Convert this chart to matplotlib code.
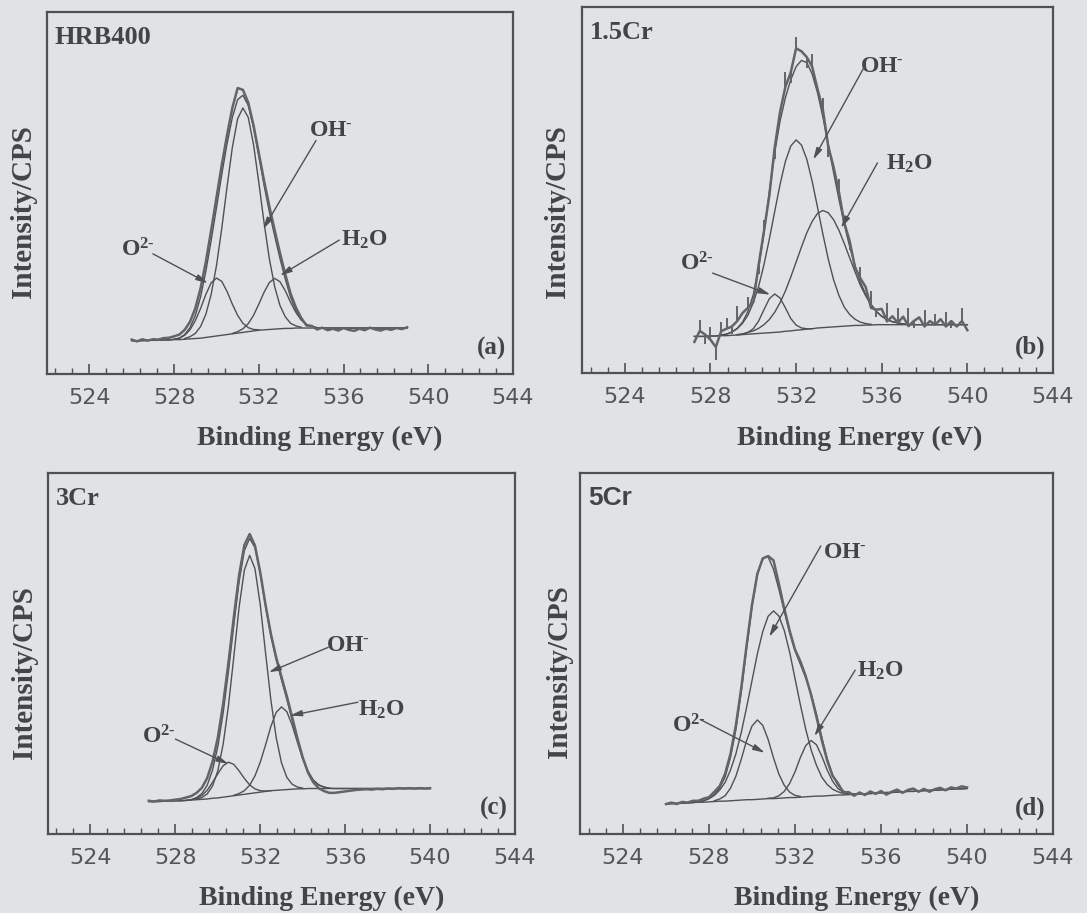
import numpy as np
import matplotlib
matplotlib.use('Agg')
from matplotlib import pyplot as plt
from matplotlib.ticker import MultipleLocator

plt.rcParams['mathtext.fontset'] = 'custom'
plt.rcParams['mathtext.rm'] = 'Liberation Serif:bold'
plt.rcParams['mathtext.it'] = 'Liberation Serif:bold'
plt.rcParams['mathtext.bf'] = 'Liberation Serif:bold'

step = 0.25  # eV between read points

# ---- (a) HRB400 -------------------------------------------------------
grid_a = np.arange(526.0, 539.0 + 1e-6, step)
bg_a = [9.2, 9.2, 9.2, 9.3,
        9.3, 9.3, 9.4, 9.4,
        9.5, 9.5, 9.6, 9.7,
        9.8, 9.9, 10.1, 10.3,
        10.5, 10.7, 10.9, 11.1,
        11.3, 11.5, 11.7, 11.9,
        12.1, 12.2, 12.3, 12.4,
        12.5, 12.6, 12.6, 12.7,
        12.7, 12.7, 12.7, 12.7,
        12.7, 12.7, 12.7, 12.7,
        12.7, 12.7, 12.7, 12.7,
        12.7, 12.7, 12.7, 12.7,
        12.7, 12.7, 12.7, 12.7,
        12.7]
o2_a = (528.0, [0.1, 0.4, 1.1, 2.5, 4.9, 8.2, 11.9, 14.9, 16.0, 14.9, 11.9, 8.2, 4.9, 2.5, 1.1, 0.4, 0.1])
oh_a = (528.5, [0.2, 0.6, 1.4, 3.2, 6.4, 11.7, 19.4, 29.5, 40.8, 51.5, 59.2, 62.0, 59.2, 51.5, 40.8,
                29.5, 19.4, 11.7, 6.4, 3.2, 1.4, 0.6, 0.2])
h2o_a = (530.75, [0.1, 0.4, 1.0, 2.2, 4.3, 7.2, 10.4, 13.0, 14.0, 13.0, 10.4, 7.2, 4.3, 2.2, 1.0, 0.4, 0.1])
resid_a = [0.3, -0.2, 0.4, -0.1,
           0.3, 0.2, 0.5, 0.6,
           0.8, 1.0, 1.3, 1.6,
           2.0, 2.4, 2.6, 2.8,
           2.8, 2.6, 2.4, 2.6,
           3.2, 1.5, 0.8, 0.6,
           0.8, 1.2, 1.5, 1.6,
           1.5, 1.3, 1.0, 0.8,
           0.4, -0.3, 0.2, -0.5,
           0.1, -0.6, -0.2, -0.7,
           0.0, -0.5, -0.8, -0.2,
           -0.6, 0.1, -0.4, -0.7,
           -0.2, -0.5, 0.0, -0.3,
           0.2]
spikes_a = []

# ---- (b) 1.5Cr --------------------------------------------------------
grid_b = np.arange(527.25, 540.0 + 1e-6, step)
bg_b = [10.0, 10.0, 10.0,
        10.1, 10.1, 10.2, 10.2,
        10.3, 10.4, 10.5, 10.6,
        10.7, 10.8, 10.9, 11.0,
        11.1, 11.2, 11.4, 11.5,
        11.7, 11.8, 12.0, 12.1,
        12.3, 12.4, 12.5, 12.6,
        12.7, 12.8, 12.9, 13.0,
        13.0, 13.1, 13.1, 13.2,
        13.2, 13.2, 13.2, 13.2,
        13.2, 13.2, 13.2, 13.2,
        13.2, 13.2, 13.2, 13.2,
        13.2, 13.2, 13.2, 13.2,
        13.2]
o2_b = (529.25, [0.0, 0.1, 0.5, 1.4, 3.4, 6.4, 9.3, 10.5, 9.3, 6.4, 3.4, 1.4, 0.5, 0.1, 0.0])
oh_b = (528.5, [0.2, 0.4, 0.9, 1.7, 3.1, 5.2, 8.5, 12.9, 18.7, 25.6, 33.0, 40.3, 46.4, 50.5, 52.0,
                50.5, 46.4, 40.3, 33.0, 25.6, 18.7, 12.9, 8.5, 5.2, 3.1, 1.7, 0.9, 0.4, 0.2])
h2o_b = (529.25, [0.1, 0.2, 0.5, 0.8, 1.4, 2.3, 3.6, 5.5, 8.0, 11.0, 14.7, 18.6, 22.6, 26.3, 29.3, 31.3,
                  32.0, 31.3, 29.3, 26.3, 22.6, 18.6, 14.7, 11.0, 8.0, 5.5, 3.6, 2.3, 1.4, 0.8, 0.5, 0.2, 0.1])
resid_b = [-1.5, 1.5, 0.5,
           -1.0, -3.0, 1.0, 1.5,
           1.5, 2.0, 2.5, 1.0,
           -2.0, 1.0, 0.5, -1.0,
           1.5, 2.5, 3.0, 2.0,
           5.0, 2.5, 1.5, 2.0,
           1.0, 2.0, -0.5, 1.5,
           2.0, 0.5, 1.5, -0.5,
           1.0, 2.0, -1.0, 0.5,
           2.0, -0.5, 1.5, 0.0,
           2.0, -0.5, 1.0, 2.0,
           -0.5, 1.0, 0.0, 1.5,
           -0.5, 1.0, -0.5, 1.0,
           -1.5]
# noise sticks on the 1.5Cr spectrum: (eV, length)
spikes_b = [(527.5, 3.0), (527.75, -2.5), (528.0, 3.5), (528.25, -3.5), (528.5, 2.5), (528.75, 3.0),
            (529.0, -2.0), (529.25, 4.0), (529.75, 3.0), (530.25, -2.5), (530.5, 3.0), (531.0, -3.0),
            (531.5, 4.0), (531.75, -3.0), (532.0, 3.0), (532.5, -3.0), (532.75, 3.5), (533.25, 3.0),
            (533.5, -3.0), (534.0, 3.5), (534.5, -2.5), (535.0, 3.0), (535.5, 4.5), (535.75, -2.0),
            (536.25, 5.0), (536.75, 4.0), (537.25, 5.0), (537.5, -2.0), (538.0, 4.5), (538.5, 3.0),
            (539.0, 4.0), (539.25, -2.0), (539.75, 3.5)]

# ---- (c) 3Cr ----------------------------------------------------------
grid_c = np.arange(526.75, 540.0 + 1e-6, step)
bg_c = [9.0,
        9.0, 9.0, 9.1, 9.1,
        9.2, 9.2, 9.3, 9.4,
        9.5, 9.6, 9.7, 9.9,
        10.0, 10.2, 10.4, 10.6,
        10.8, 11.0, 11.2, 11.4,
        11.6, 11.8, 12.0, 12.1,
        12.2, 12.3, 12.4, 12.5,
        12.5, 12.6, 12.6, 12.6,
        12.6, 12.6, 12.6, 12.6,
        12.6, 12.6, 12.6, 12.6,
        12.6, 12.6, 12.6, 12.6,
        12.6, 12.6, 12.6, 12.6,
        12.6, 12.6, 12.6, 12.6,
        12.6]
o2_c = (528.5, [0.0, 0.1, 0.4, 1.1, 2.4, 4.4, 6.7, 8.7, 9.5, 8.7, 6.7, 4.4, 2.4, 1.1, 0.4, 0.1, 0.0])
oh_c = (529.0, [0.2, 0.5, 1.4, 3.4, 7.5, 14.6, 25.1, 38.3, 51.9, 62.1, 66.0, 62.1, 51.9, 38.3, 25.1,
                14.6, 7.5, 3.4, 1.4, 0.5, 0.2])
h2o_c = (530.75, [0.1, 0.4, 1.0, 2.3, 4.7, 8.3, 12.9, 17.8, 21.6, 23.0, 21.6, 17.8, 12.9, 8.3, 4.7,
                  2.3, 1.0, 0.4, 0.1])
resid_c = [0.2,
           0.0, 0.3, 0.1, 0.2,
           0.3, 0.5, 0.8, 1.0,
           1.3, 1.6, 2.0, 2.3,
           2.5, 2.5, 2.4, 2.2,
           1.8, 1.5, 1.2, 0.6,
           0.2, 0.3, 0.5, 0.6,
           0.8, 0.9, 0.8, 0.6,
           0.2, -0.3, -0.6, -0.9,
           -1.1, -1.3, -1.2, -1.0,
           -0.8, -0.6, -0.4, -0.3,
           -0.2, -0.3, -0.1, -0.2,
           0.0, -0.1, 0.1, 0.0,
           0.1, 0.0, 0.1, 0.0,
           0.1]
spikes_c = []

# ---- (d) 5Cr ----------------------------------------------------------
grid_d = np.arange(526.0, 540.0 + 1e-6, step)
bg_d = [8.3, 8.4, 8.5, 8.5,
        8.6, 8.7, 8.8, 8.8,
        8.9, 9.0, 9.1, 9.1,
        9.2, 9.3, 9.4, 9.5,
        9.5, 9.6, 9.7, 9.8,
        9.8, 9.9, 10.0, 10.1,
        10.1, 10.2, 10.3, 10.4,
        10.5, 10.5, 10.6, 10.7,
        10.8, 10.8, 10.9, 11.0,
        11.1, 11.1, 11.2, 11.3,
        11.4, 11.5, 11.5, 11.6,
        11.7, 11.8, 11.8, 11.9,
        12.0, 12.1, 12.1, 12.2,
        12.3, 12.4, 12.5, 12.5,
        12.6]
o2_d = (528.25, [0.2, 0.6, 1.5, 3.5, 6.7, 11.3, 16.4, 20.4, 22.0, 20.4, 16.4, 11.3, 6.7, 3.5, 1.5, 0.6, 0.2])
oh_d = (527.5, [0.2, 0.4, 0.9, 1.7, 3.1, 5.2, 8.5, 12.9, 18.7, 25.6, 33.0, 40.3, 46.4, 50.5, 52.0,
                50.5, 46.4, 40.3, 33.0, 25.6, 18.7, 12.9, 8.5, 5.2, 3.1, 1.7, 0.9, 0.4, 0.2])
h2o_d = (530.75, [0.1, 0.2, 0.7, 1.8, 3.9, 7.1, 11.0, 14.2, 15.5, 14.2, 11.0, 7.1, 3.9, 1.8, 0.7, 0.2, 0.1])
resid_d = [0.0, 0.3, -0.2, 0.4,
           0.1, 0.5, 0.2, 0.6,
           0.4, 0.8, 0.5, 0.9,
           1.0, 1.2, 1.0, 0.8,
           0.6, 0.2, -0.2, 0.2,
           2.5, 1.5, 0.8, 0.5,
           0.3, 0.8, 0.5, -0.3,
           -0.8, -0.8, -0.5, -0.2,
           0.5, -0.4, 0.3, -0.5,
           0.4, -0.3, 0.6, -0.2,
           0.5, -0.6, 0.2, 0.7,
           -0.3, 0.4, 0.8, -0.2,
           0.5, -0.4, 0.3, 0.6,
           -0.2, 0.5, 0.1, 0.7,
           0.3]
spikes_d = []

names = ['HRB400', '1.5Cr', '3Cr', '5Cr']
letters = ['(a)', '(b)', '(c)', '(d)']
xticks = [524, 528, 532, 536, 540, 544]

# label text position, arrow tail, arrow tip (eV, % of axis height)
ann_a = {'OH': ((535.4, 67.7), (534.7, 64.5), (532.2, 40.0)),
         'O2': ((526.3, 34.5), (527.0, 33.2), (529.6, 25.1)),
         'H2O': ((537.0, 37.3), (535.8, 37.0), (533.0, 27.2))}
ann_b = {'OH': ((536.0, 84.2), (535.2, 83.8), (532.8, 58.3)),
         'O2': ((527.35, 30.0), (528.1, 27.3), (530.8, 21.4)),
         'H2O': ((537.3, 57.4), (535.8, 57.4), (534.1, 39.6))}
ann_c = {'OH': ((536.15, 52.6), (535.2, 51.7), (532.4, 44.8)),
         'O2': ((527.2, 27.0), (528.0, 26.3), (530.5, 19.4)),
         'H2O': ((537.7, 34.6), (536.6, 36.5), (533.4, 32.8))}
ann_d = {'OH': ((534.3, 78.4), (533.2, 79.8), (530.8, 54.6)),
         'O2': ((527.05, 30.0), (527.6, 31.7), (530.6, 22.5)),
         'H2O': ((535.95, 45.4), (534.8, 45.4), (532.9, 27.1))}
ann_text = {'OH': r'$\mathrm{OH^{\text{-}}}$', 'O2': r'$\mathrm{O^{2\text{-}}}$',
            'H2O': r'$\mathrm{H_{2}O}$'}

panels = [
    (grid_a, bg_a, [o2_a, oh_a, h2o_a], resid_a, spikes_a, ann_a),
    (grid_b, bg_b, [o2_b, oh_b, h2o_b], resid_b, spikes_b, ann_b),
    (grid_c, bg_c, [o2_c, oh_c, h2o_c], resid_c, spikes_c, ann_c),
    (grid_d, bg_d, [o2_d, oh_d, h2o_d], resid_d, spikes_d, ann_d),
]

# axes boxes in pixels of the 1087x913 picture: left, top, right, bottom
boxes = [(47, 12, 513, 374), (582, 7, 1053, 373), (48, 473, 515, 834), (580, 473, 1053, 834)]
ylab_xy = [(-0.050, 0.45), (-0.053, 0.44), (-0.051, 0.446), (-0.044, 0.449)]
xlab_x = [0.585, 0.59, 0.585, 0.585]

bgcol = '#dfe3e6'
ink = '#505050'
txtcol = '#444444'
W, H = 1087, 913
fig = plt.figure(figsize=(W / 100, H / 100), dpi=100, facecolor=bgcol)

for k, (grid, bg, comps, resid, spikes, ann) in enumerate(panels):
    l, t, r, b = boxes[k]
    ax = fig.add_axes([l / W, 1 - b / H, (r - l) / W, (b - t) / H])
    ax.set_facecolor(bgcol)
    bg = np.array(bg)
    env = bg.copy()
    for start, vals in comps:
        i0 = int(round((start - grid[0]) / step))
        xs = grid[i0:i0 + len(vals)]
        ys = bg[i0:i0 + len(vals)] + np.array(vals)
        env[i0:i0 + len(vals)] += np.array(vals)
        ax.plot(xs, ys, color=ink, lw=1.0)
    raw = env + np.array(resid)
    ax.plot(grid, bg, color=ink, lw=1.0)
    ax.plot(grid, env, color=ink, lw=1.0)
    ax.plot(grid, raw, color='#646464', lw=1.8)
    for sx, sl in spikes:
        i = int(round((sx - grid[0]) / step))
        ax.vlines(sx, raw[i], raw[i] + sl, color='#646464', lw=1.4)

    for key, (txt, tail, tip) in ann.items():
        ax.text(txt[0], txt[1], ann_text[key], fontsize=17, color=txtcol,
                ha='center', va='center')
        ax.annotate('', xy=tip, xytext=tail,
                    arrowprops=dict(arrowstyle='-|>,head_length=0.7,head_width=0.18',
                                    color=ink, lw=1.0, shrinkA=0, shrinkB=0))

    fam = 'Liberation Sans' if k == 3 else 'Liberation Serif'
    ax.text(0.017, 0.93, names[k], transform=ax.transAxes, fontsize=19,
            fontweight='bold', family=fam, color=txtcol, ha='left', va='center')
    ax.text(0.985, 0.07, letters[k], transform=ax.transAxes, fontsize=18,
            fontweight='bold', family='Liberation Serif', color=txtcol,
            ha='right', va='center')

    ax.set_xlim(522, 544)
    ax.set_ylim(0, 100)
    ax.set_xticks(xticks)
    ax.xaxis.set_minor_locator(MultipleLocator(0.8))
    ax.set_yticks([])
    ax.tick_params(axis='x', which='both', direction='in', top=False, colors=ink,
                   labelsize=16, labelcolor='#555555', pad=10)
    ax.tick_params(axis='x', which='major', length=7, width=1.2)
    ax.tick_params(axis='x', which='minor', length=4, width=1.0)
    for lab in ax.get_xticklabels():
        lab.set_family('DejaVu Sans')
    for sp in ax.spines.values():
        sp.set_color(ink)
        sp.set_linewidth(1.6)

    ax.set_xlabel('Binding Energy (eV)', family='Liberation Serif', fontweight='bold',
                  fontsize=20, color=txtcol, va='center')
    ax.xaxis.set_label_coords(xlab_x[k], -0.178)
    ax.set_ylabel('Intensity/CPS', family='Liberation Serif', fontweight='bold',
                  fontsize=21, color=txtcol, va='center')
    ax.yaxis.set_label_coords(*ylab_xy[k])

fig.savefig('out.png', dpi=100, facecolor=bgcol)
